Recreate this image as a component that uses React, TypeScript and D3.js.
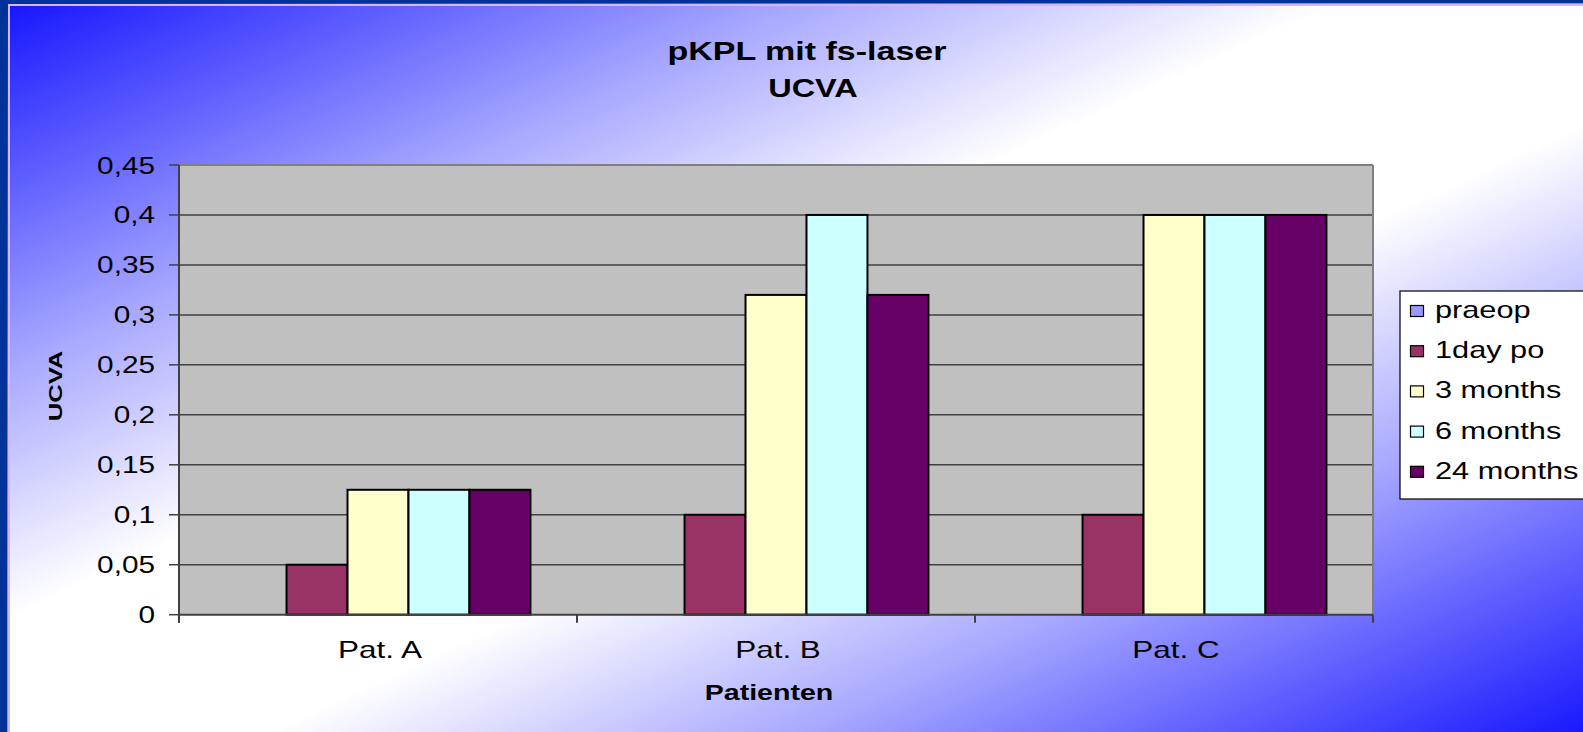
import React from 'react';
import * as d3 from 'd3';

const patients = ['Pat. A', 'Pat. B', 'Pat. C'];
const seriesNames = ['praeop', '1day po', '3 months', '6 months', '24 months'];
const seriesColors = ['#9999FF', '#993366', '#FFFFCC', '#CCFFFF', '#660066'];
const praeop = [0, 0, 0];
const day1 = [0.05, 0.1, 0.1];
const months3 = [0.125, 0.32, 0.4];
const months6 = [0.125, 0.4, 0.4];
const months24 = [0.125, 0.32, 0.4];
const yTicks = [0, 0.05, 0.1, 0.15, 0.2, 0.25, 0.3, 0.35, 0.4, 0.45];

const allSeries = [praeop, day1, months3, months6, months24];

const W = 1583;
const H = 732;
const font = '"Liberation Sans", Arial, sans-serif';

// chart area
const left = 179;
const right = 1373;
const top = 165;
const bottom = 614.7;

const App = () => {
  const x0 = d3.scaleBand().domain(patients).range([left, right]).padding(0);
  const bw = x0.bandwidth();
  const groupW = bw * 0.766;
  const x1 = d3
    .scaleBand()
    .domain(seriesNames)
    .range([(bw - groupW) / 2, (bw + groupW) / 2])
    .padding(0);
  const y = d3.scaleLinear().domain([0, 0.45]).range([bottom, top]);

  const fmt = (v: number) => String(v).replace('.', ',');

  return (
    <svg
      width={W}
      height={H}
      style={{ position: 'absolute', left: 0, top: 0, display: 'block' }}
    >
      <defs>
        <linearGradient id="bg" x1="0" y1="0" x2="1" y2="1">
          <stop offset="0" stopColor="#1616ff" />
          <stop offset="0.25" stopColor="#a8a8ff" />
          <stop offset="0.42" stopColor="#ffffff" />
          <stop offset="0.58" stopColor="#ffffff" />
          <stop offset="0.75" stopColor="#a8a8ff" />
          <stop offset="1" stopColor="#1616ff" />
        </linearGradient>
      </defs>

      {/* frame and background */}
      <rect x={0} y={0} width={W} height={H} fill="#003399" />
      <rect x={7.5} y={3.5} width={W} height={H} fill="url(#bg)" />
      <line x1={9} y1={4} x2={9} y2={H} stroke="#d9b3ff" strokeWidth={2} />
      <line x1={8} y1={5} x2={W} y2={5} stroke="#d9b3ff" strokeWidth={2} />

      {/* title */}
      <g fontFamily={font} fontWeight="bold" fontSize={25} fill="#000">
        <text transform="translate(807,60) scale(1.36,1)" textAnchor="middle">
          pKPL mit fs-laser
        </text>
        <text transform="translate(813,96.5) scale(1.3,1)" textAnchor="middle">
          UCVA
        </text>
      </g>

      {/* plot area */}
      <rect x={left} y={top} width={right - left} height={bottom - top} fill="#C0C0C0" />
      {yTicks
        .filter((t) => t > 0 && t < 0.45)
        .map((t) => (
          <line
            key={t}
            x1={left}
            x2={right}
            y1={y(t)}
            y2={y(t)}
            stroke="#404040"
            strokeWidth={1.5}
          />
        ))}
      <line x1={left} x2={right} y1={top} y2={top} stroke="#808080" strokeWidth={2} />
      <line x1={right} x2={right} y1={top} y2={bottom} stroke="#808080" strokeWidth={2} />

      {/* bars */}
      {patients.map((p, i) => (
        <g key={p} transform={`translate(${x0(p)},0)`}>
          {seriesNames.map((s, k) => {
            const v = allSeries[k][i];
            return (
              <rect
                key={s}
                x={x1(s)}
                y={y(v)}
                width={x1.bandwidth()}
                height={bottom - y(v)}
                fill={seriesColors[k]}
                stroke="#000"
                strokeWidth={2}
              />
            );
          })}
        </g>
      ))}

      {/* axes */}
      <line x1={left} x2={left} y1={top} y2={bottom + 8} stroke="#404040" strokeWidth={2} />
      <line x1={left} x2={right} y1={bottom} y2={bottom} stroke="#404040" strokeWidth={2} />
      {yTicks.map((t) => (
        <g key={t}>
          <line x1={left - 10} x2={left} y1={y(t)} y2={y(t)} stroke="#404040" strokeWidth={1.5} />
          <text
            transform={`translate(155,${y(t) + 8.5}) scale(1.24,1)`}
            textAnchor="end"
            fontFamily={font}
            fontSize={24}
            fill="#000"
          >
            {fmt(t)}
          </text>
        </g>
      ))}
      {[...patients.map((p) => x0(p) as number), right].map((xv) => (
        <line key={xv} x1={xv} x2={xv} y1={bottom} y2={bottom + 8} stroke="#404040" strokeWidth={2} />
      ))}
      {patients.map((p) => (
        <text
          key={p}
          transform={`translate(${(x0(p) as number) + bw / 2 + 2},658) scale(1.31,1)`}
          textAnchor="middle"
          fontFamily={font}
          fontSize={24}
          fill="#000"
        >
          {p}
        </text>
      ))}

      {/* axis titles */}
      <text
        transform="translate(769,700) scale(1.3,1)"
        textAnchor="middle"
        fontFamily={font}
        fontWeight="bold"
        fontSize={22}
        fill="#000"
      >
        Patienten
      </text>
      <text
        transform="translate(61.5,386) rotate(-90) scale(1.35,1)"
        textAnchor="middle"
        fontFamily={font}
        fontWeight="bold"
        fontSize={19}
        fill="#000"
      >
        UCVA
      </text>

      {/* legend */}
      <rect x={1400} y={291} width={200} height={208} fill="#fff" stroke="#000" strokeWidth={1.2} />
      {seriesNames.map((s, k) => (
        <g key={s} transform={`translate(0,${311 + k * 40.2})`}>
          <rect x={1410.5} y={-5.5} width={13} height={11} fill={seriesColors[k]} stroke="#000" strokeWidth={1.2} />
          <text
            transform="translate(1435,7) scale(1.28,1)"
            fontFamily={font}
            fontSize={24}
            fill="#000"
          >
            {s}
          </text>
        </g>
      ))}
    </svg>
  );
};

export default App;
